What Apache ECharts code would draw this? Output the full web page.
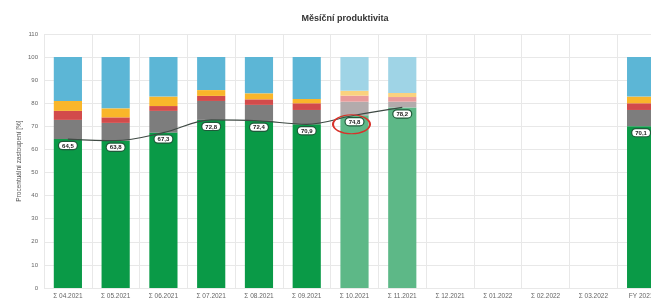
<!DOCTYPE html>
<html>
<head>
<meta charset="utf-8">
<script src="https://cdn.jsdelivr.net/npm/echarts@6/dist/echarts.min.js"></script>
<style>
  html, body { margin: 0; padding: 0; background: #fff; }
  #chart { width: 651px; height: 302px; }
</style>
</head>
<body>
<div id="chart"></div>
<script>
  // kategorie (osa x)
  const categories = ['Σ 04.2021', 'Σ 05.2021', 'Σ 06.2021', 'Σ 07.2021', 'Σ 08.2021', 'Σ 09.2021',
    'Σ 10.2021', 'Σ 11.2021', 'Σ 12.2021', 'Σ 01.2022', 'Σ 02.2022', 'Σ 03.2022', 'FY 2021']
  // podíly v % (zdola nahoru)
  const greenData = [64.5, 63.8, 67.3, 72.8, 72.4, 70.9, 74.8, 78.2, null, null, null, null, 70.1]
  const grayData = [8.3, 7.7, 9.4, 8.2, 6.9, 6.2, 5.9, 2.5, null, null, null, null, 7.0]
  const redData = [3.9, 2.4, 2.1, 2.2, 2.4, 2.9, 2.6, 2.0, null, null, null, null, 2.9]
  const yellowData = [4.3, 3.9, 4.1, 2.5, 2.6, 1.9, 2.1, 1.8, null, null, null, null, 2.9]
  const blueData = [19.0, 22.2, 17.1, 14.3, 15.7, 18.1, 14.6, 15.5, null, null, null, null, 17.1]
  // trend produktivity
  const lineData = [64.5, 63.8, 67.3, 72.8, 72.4, 70.9, 74.8, 78.2, null, null, null, null, null]
  const yTicks = { min: 0, max: 110, interval: 10 }
  const highlighted = 'Σ 10.2021'
  const lightMonths = ['Σ 10.2021', 'Σ 11.2021']

  const font = 'Liberation Sans, Arial, sans-serif'

  // neuzavřené měsíce jsou světlejší (barva, ne opacity - popisky zůstanou ostré)
  function withLight(arr, lightColor) {
    return arr.map(function(v, i) {
      if (lightMonths.indexOf(categories[i]) >= 0) {
        return { value: v, itemStyle: { color: lightColor } }
      }
      return v
    })
  }

  function barSeries(name, data, color, lightColor, extra) {
    return Object.assign({
      name: name,
      type: 'bar',
      stack: 'total',
      barWidth: '59%',
      data: withLight(data, lightColor),
      itemStyle: { color: color },
      emphasis: { disabled: true }
    }, extra || {})
  }

  const chart = echarts.init(document.getElementById('chart'), null, { renderer: 'canvas' })
  const option = {
    animation: false,
    textStyle: { fontFamily: font },
    title: {
      text: 'Měsíční produktivita',
      left: 340,
      top: 9,
      textAlign: 'center',
      textStyle: { fontSize: 9, fontWeight: 'bold', color: '#333', fontFamily: font }
    },
    // graf přesahuje pravý okraj (FY sloupec je useknutý)
    grid: { left: 44, right: -14, top: 34, bottom: 14, outerBoundsMode: 'none', containLabel: false },
    xAxis: {
      type: 'category',
      data: categories,
      axisLine: { show: false },
      axisTick: { show: false },
      axisLabel: { color: '#666', fontSize: 6.5, margin: 5, interval: 0, fontFamily: font },
      splitLine: { show: true, lineStyle: { color: '#e8e8e8', width: 1 } }
    },
    yAxis: {
      type: 'value',
      min: yTicks.min,
      max: yTicks.max,
      interval: yTicks.interval,
      name: 'Procentuální zastoupení [%]',
      nameLocation: 'middle',
      nameGap: 21,
      nameMoveOverlap: false,
      nameTextStyle: { color: '#555', fontSize: 6.5, fontFamily: font },
      axisLine: { show: false },
      axisTick: { show: false },
      axisLabel: { color: '#666', fontSize: 6, margin: 6, fontFamily: font },
      splitLine: { lineStyle: { color: '#e8e8e8', width: 1 } }
    },
    series: [
      barSeries('Produktivní', greenData, '#0a9a47', '#5db887', {
        label: {
          show: true,
          position: 'insideTop',
          distance: 3,
          formatter: function(p) { return String(p.value).replace('.', ',') },
          backgroundColor: '#fff',
          borderColor: '#1f5a3a',
          borderWidth: 1.2,
          borderRadius: 5,
          padding: [1, 3, 0, 3],
          color: '#222',
          fontSize: 6,
          fontWeight: 'bold',
          fontFamily: font
        },
        markPoint: {
          silent: true,
          symbol: 'circle',
          symbolSize: [37, 19],
          symbolOffset: [-3, 9],
          itemStyle: { color: 'rgba(0,0,0,0)', borderColor: '#d8322b', borderWidth: 1.5 },
          label: { show: false },
          data: [{ coord: [highlighted, greenData[categories.indexOf(highlighted)]] }]
        }
      }),
      barSeries('Ostatní', grayData, '#7d7d7d', '#b3abac'),
      barSeries('Prostoje', redData, '#d24b4b', '#e99a9a'),
      barSeries('Čekání', yellowData, '#f9b62a', '#fad27e'),
      barSeries('Zbytek', blueData, '#5cb6d6', '#9fd4e6'),
      {
        name: 'Trend',
        type: 'line',
        data: lineData,
        smooth: 0.35,
        symbol: 'none',
        z: 3,
        lineStyle: { color: '#3f4a44', width: 1.2 },
        emphasis: { disabled: true }
      }
    ]
  }
  chart.setOption(option)
</script>
</body>
</html>
